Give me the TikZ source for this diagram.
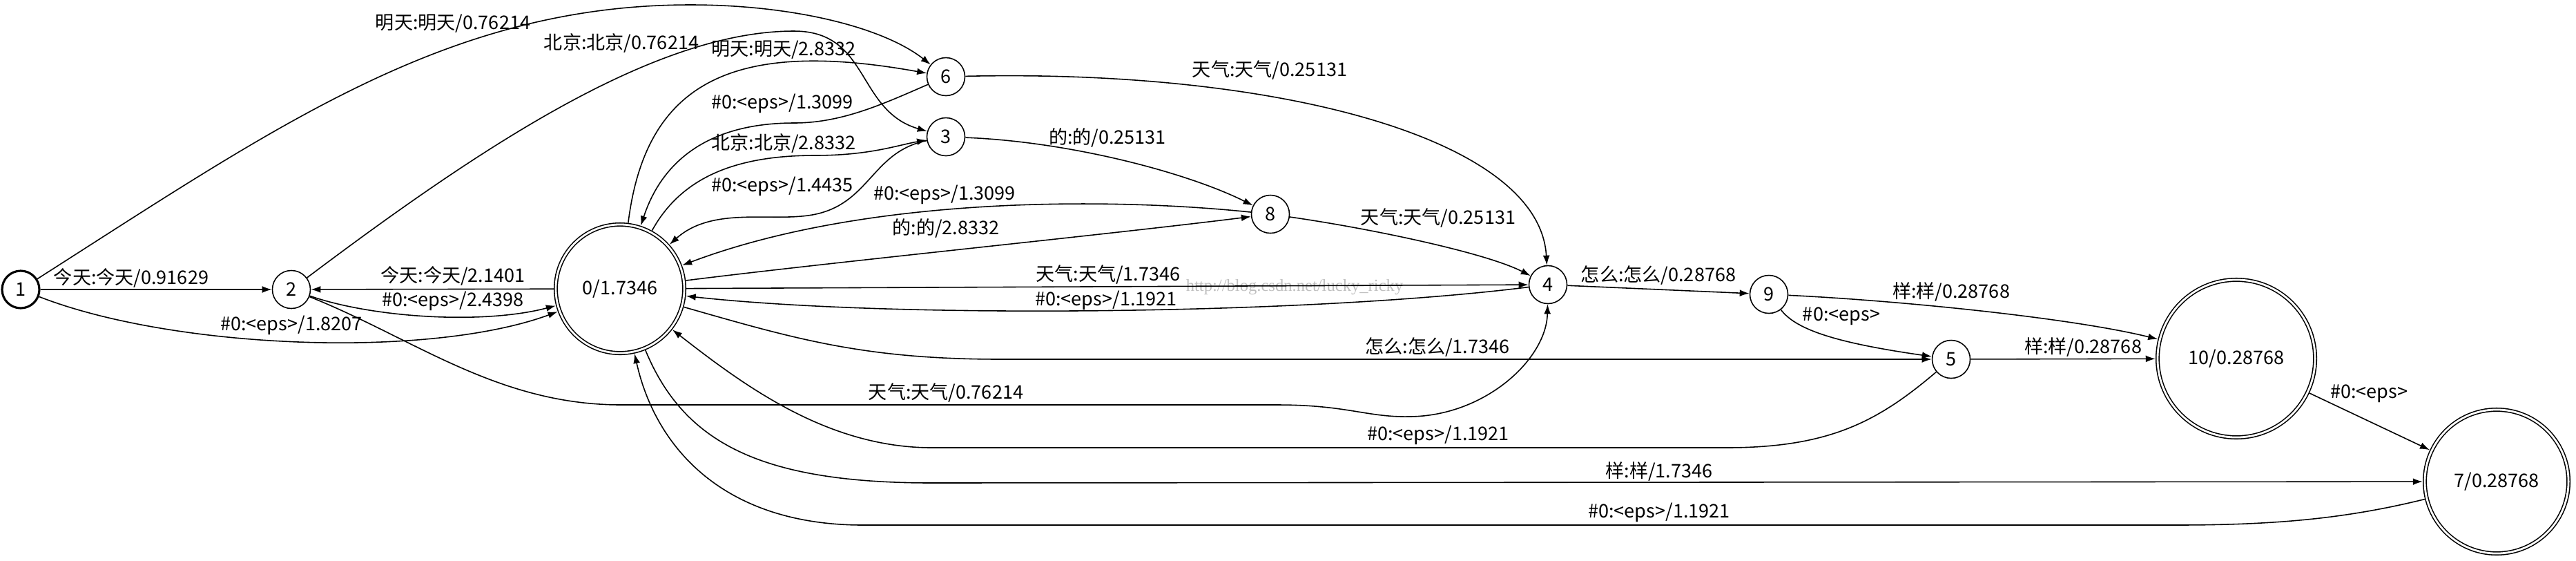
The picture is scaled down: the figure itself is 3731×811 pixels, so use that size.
\documentclass[tikz,border=0pt]{standalone}
\usepackage{fontspec}
\setmainfont{Noto Sans CJK SC}
\newfontfamily\wmfont{Liberation Serif}
\usetikzlibrary{arrows.meta}
\tikzset{
  st/.style={circle,draw,minimum size=0.55cm,inner sep=0pt},
  stinit/.style={st,line width=0.9pt,minimum size=0.54cm},
  stfin/.style={circle,draw,double,double distance=0.8pt,inner sep=0pt,outer sep=0.9pt},
}

\begin{document}
\begin{tikzpicture}[x=0.01cm,y=-0.01cm,line width=0.45pt,>={Latex[length=4pt,width=2.8pt]},
    font=\fontsize{7.7}{9}\selectfont]
        \useasboundingbox (0,0) rectangle (3731,811);
        % states
        \node[stinit] (n1) at (30,419) {1};
        \node[st] (n2) at (422,419) {2};
        \node[stfin,minimum size=1.86cm] (n0) at (898,418) {0/1.7346};
        \node[st] (n6) at (1370,111) {6};
        \node[st] (n3) at (1370,198) {3};
        \node[st] (n8) at (1840,310) {8};
        \node[st] (n4) at (2242,412) {4};
        \node[st] (n9) at (2562,426) {9};
        \node[st] (n5) at (2826,520) {5};
        \node[stfin,minimum size=2.28cm] (n10) at (3239,519) {10/0.28768};
        \node[stfin,minimum size=2.08cm] (n7) at (3616,697) {7/0.28768};

        \node[text=black!25,font=\wmfont\fontsize{7}{8}\selectfont] (wm) at (1875,416) {http://blog.csdn.net/lucky\_ricky};

        % arcs
        \draw[->] (n1) -- (n2);
        \draw[->] (n1) .. controls (250,505) and (620,520) .. (n0);
        \draw[->] (n1) .. controls (405,180) and (650,7) .. (1000,7) .. controls (1150,7) and (1280,40) .. (n6);
        \draw[->] (n2) .. controls (700,210) and (950,45) .. (1150,45) .. controls (1260,45) and (1240,160) .. (n3);
        \draw[->] (n2) .. controls (540,460) and (700,470) .. (n0);
        \draw[->] (n2) .. controls (600,490) and (720,586) .. (900,586) -- (1850,586)
                  .. controls (1950,586) and (1980,604) .. (2040,603) .. controls (2150,603) and (2240,520) .. (n4);
        \draw[->] (n0) -- (n2);
        \draw[->] (n0) .. controls (935,120) and (1060,55) .. (n6);
        \draw[->] (n6) .. controls (1280,150) and (1220,178) .. (1150,178) .. controls (1030,178) and (960,230) .. (n0);
        \draw[->] (n0) .. controls (985,260) and (1060,225) .. (1180,225) .. controls (1260,225) and (1300,210) .. (n3);
        \draw[->] (n3) .. controls (1260,220) and (1260,300) .. (1170,312) .. controls (1110,320) and (1030,300) .. (n0);
        \draw[->] (n0) .. controls (1200,380) and (1600,340) .. (n8);
        \draw[->] (n8) .. controls (1600,285) and (1250,285) .. (n0);
        \draw[->] (n0) -- (n4);
        \draw[->] (n4) .. controls (1900,455) and (1300,462) .. (n0);
        \draw[->] (n0) .. controls (1150,490) and (1250,520) .. (1450,520) -- (n5);
        \draw[->] (n5) .. controls (2720,610) and (2650,648) .. (2500,648) -- (1350,648)
                  .. controls (1200,648) and (1080,560) .. (n0);
        \draw[->] (n0) .. controls (990,640) and (1100,699) .. (1350,699) -- (n7);
        \draw[->] (n7) .. controls (3400,750) and (3300,760) .. (3150,760) -- (1250,760)
                  .. controls (1050,760) and (950,650) .. (n0);
        \draw[->] (n6) .. controls (1850,100) and (2230,200) .. (n4);
        \draw[->] (n3) .. controls (1550,205) and (1720,250) .. (n8);
        \draw[->] (n8) .. controls (1980,330) and (2150,365) .. (n4);
        \draw[->] (n4) -- (n9);
        \draw[->] (n9) .. controls (2750,435) and (3000,460) .. (n10);
        \draw[->] (n9) .. controls (2600,475) and (2650,495) .. (n5);
        \draw[->] (n5) -- (n10);
        \draw[->] (n10) -- (n7);

        % arc labels
        \node (t12) at (190,402) {今天:今天/0.91629};
        \node (t10) at (422,471) {\#0:<eps>/1.8207};
        \node (t16) at (656,34) {明天:明天/0.76214};
        \node (t23) at (900,62) {北京:北京/0.76214};
        \node (t20) at (656,436) {\#0:<eps>/2.4398};
        \node (t24) at (1370,569) {天气:天气/0.76214};
        \node (t02) at (656,399) {今天:今天/2.1401};
        \node (t06) at (1135,72) {明天:明天/2.8332};
        \node (t60) at (1133,150) {\#0:<eps>/1.3099};
        \node (t03) at (1135,207) {北京:北京/2.8332};
        \node (t30) at (1133,270) {\#0:<eps>/1.4435};
        \node (t80) at (1368,282) {\#0:<eps>/1.3099};
        \node (t08) at (1370,330) {的:的/2.8332};
        \node (t04) at (1605,398) {天气:天气/1.7346};
        \node (t40) at (1602,435) {\#0:<eps>/1.1921};
        \node (t05) at (2082,502) {怎么:怎么/1.7346};
        \node (t50) at (2083,630) {\#0:<eps>/1.1921};
        \node (t07) at (2403,682) {样:样/1.7346};
        \node (t70) at (2403,742) {\#0:<eps>/1.1921};
        \node (t64) at (1839,102) {天气:天气/0.25131};
        \node (t38) at (1604,199) {的:的/0.25131};
        \node (t84) at (2083,316) {天气:天气/0.25131};
        \node (t49) at (2402,398) {怎么:怎么/0.28768};
        \node (t910) at (2826,422) {样:样/0.28768};
        \node (t95) at (2667,458) {\#0:<eps>};
        \node (t510) at (3017,502) {样:样/0.28768};
        \node (t107) at (3431,570) {\#0:<eps>};
\end{tikzpicture}
\end{document}
